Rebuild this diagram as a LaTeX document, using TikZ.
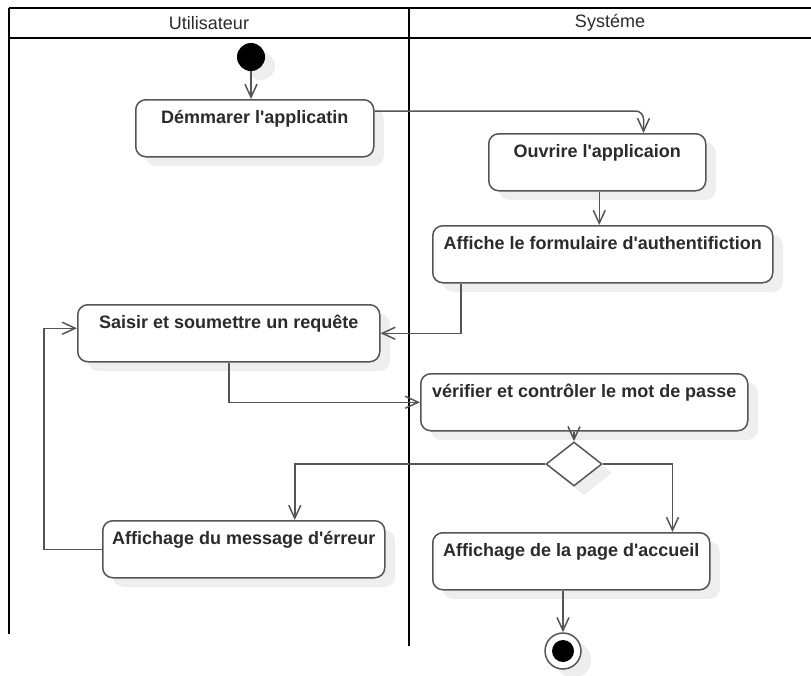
\documentclass[tikz,border=0pt]{standalone}
\usepackage{fontspec}
\setmainfont{Liberation Sans}
\usetikzlibrary{arrows.meta, shapes.geometric, shadows}
\definecolor{edge-gray}{HTML}{555555}
\definecolor{shade-gray}{HTML}{EEEEEE}
\definecolor{label-dark}{HTML}{2B2B2B}
\newcommand{\q}{\textquotesingle}

\tikzset{
  action/.style={draw=edge-gray, line width=1.5pt, rounded corners=10pt, fill=white,
    anchor=north west, font=\fontsize{18}{20}\selectfont\bfseries, text=label-dark,
    text height=20pt, text depth=29pt, inner xsep=4pt, inner ysep=4pt,
    drop shadow={shadow xshift=10pt, shadow yshift=-9pt, fill=shade-gray, opacity=1}},
  flow/.style={draw=edge-gray, line width=1.5pt, -{Straight Barb[length=13pt, width=12pt]}},
  lane/.style={line width=2pt, black},
  lanetitle/.style={font=\fontsize{18}{20}\selectfont, text=label-dark}
}

\begin{document}
\begin{tikzpicture}[x=1pt, y=-1pt]
    \useasboundingbox[fill=white] (0,0) rectangle (811,675);

    % swimlanes
    \draw[lane] (9,8) -- (811,8);
    \draw[lane] (9,38) -- (811,38);
    \draw[lane] (9,8) -- (9,634);
    \draw[lane] (409,8) -- (409,646);
    \node[lanetitle] (user) at (209,23) {Utilisateur};
    \node[lanetitle] (sys) at (610,23) {Systéme};

    % actions
    \node[circle, fill=black, minimum size=28pt, inner sep=0pt,
      drop shadow={shadow xshift=10pt, shadow yshift=-9pt, fill=shade-gray, opacity=1}]
      (start) at (251,57) {};
    \node[action, minimum width=238pt] (dem) at (135,99) {Démmarer l\q applicatin};
    \node[action, minimum width=217pt] (ouv) at (488,133) {Ouvrire l\q applicaion};
    \node[action, minimum width=340pt] (form) at (432,225) {Affiche le formulaire d\q authentifiction};
    \node[action, minimum width=302pt] (saisir) at (77,304) {Saisir et soumettre un requête};
    \node[action, minimum width=327pt] (verif) at (420,373) {vérifier et contrôler le mot de passe};
    \node[diamond, draw=edge-gray, line width=1.5pt, fill=white, minimum width=56pt,
      minimum height=44pt, inner sep=0pt,
      drop shadow={shadow xshift=10pt, shadow yshift=-9pt, fill=shade-gray, opacity=1}]
      (dec) at (574,464) {};
    \node[action, minimum width=282pt] (err) at (102,520) {Affichage du message d\q érreur};
    \node[action, minimum width=277pt] (acc) at (432,532) {Affichage de la page d\q accueil};
    \node[circle, draw=edge-gray, line width=1.5pt, fill=white, minimum size=36pt, inner sep=0pt,
      drop shadow={shadow xshift=10pt, shadow yshift=-9pt, fill=shade-gray, opacity=1}]
      (fin) at (563,651) {};
    \node[circle, fill=black, minimum size=22pt, inner sep=0pt] (findot) at (fin) {};

    % flows
    \draw[flow] (start.south) -- (start.south |- dem.north);
    \draw[flow, rounded corners=8pt] ([yshift=-12pt]dem.north east) -| ([xshift=-63pt]ouv.north east);
    \draw[flow] ([xshift=2pt]ouv.south) -- ([xshift=2pt]ouv.south |- form.north);
    \draw[flow] ([xshift=29pt]form.south west) |- (saisir.east);
    \draw[flow] (saisir.south) |- (verif.west);
    \draw[flow] (dec.north |- verif.south) -- (dec.north);
    \draw[flow] (dec.west) -| ([xshift=51pt]err.north);
    \draw[flow] (dec.east) -| ([xshift=-38pt]acc.north east);
    \draw[flow] (err.west) -- ++(-58,0) |- ([yshift=5pt]saisir.west);
    \draw[flow] (fin.north |- acc.south) -- (fin.north);
\end{tikzpicture}
\end{document}
